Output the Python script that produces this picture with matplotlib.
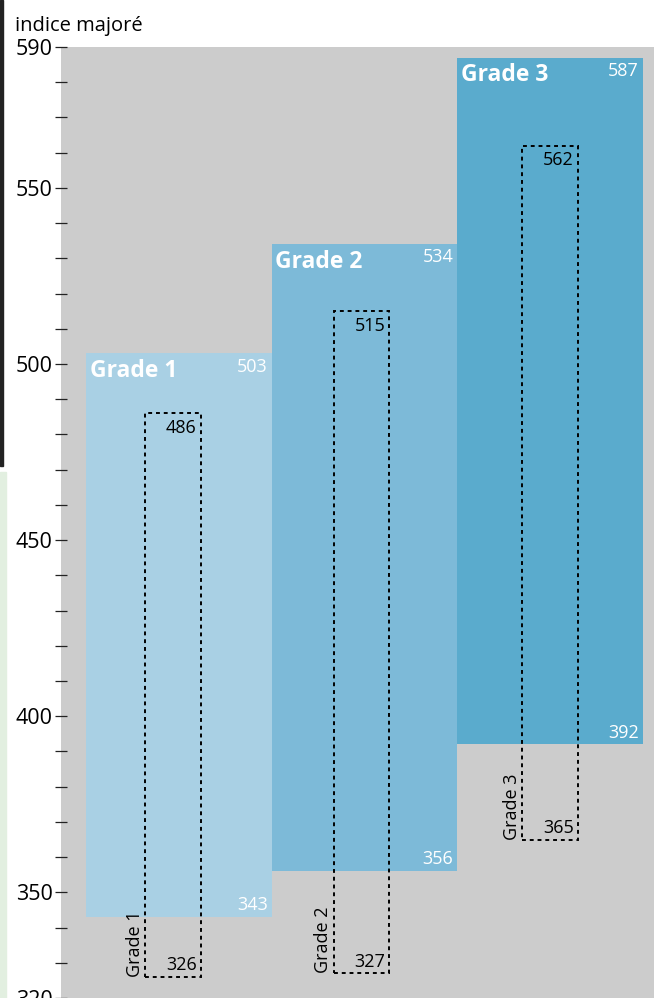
import numpy as np
import matplotlib.pyplot as plt
from matplotlib.patches import Rectangle

plt.rcParams['font.family'] = ['Open Sans', 'DejaVu Sans']

grades = ['Grade 1', 'Grade 2', 'Grade 3']
range_low = [343, 356, 392]
range_high = [503, 534, 587]
inner_low = [326, 327, 365]
inner_high = [486, 515, 562]
bar_colors = ['#a9d0e4', '#7dbad8', '#5aabcd']
tick_values = np.arange(320, 591, 10)
labelled = [320, 350, 400, 450, 500, 550, 590]

W, H = 654, 998
fig = plt.figure(figsize=(W / 100, H / 100), dpi=100)
ax = fig.add_axes([61 / W, 0.0, 1 - 61 / W, 1 - 47 / H])
ax.set_facecolor('#cccccc')

x = np.arange(len(grades))
low = np.array(range_low)
high = np.array(range_high)
ax.bar(x, high - low, bottom=low, width=1.0, color=bar_colors, zorder=2)

# dashed boxes sit slightly left of the bar centres, a bit more for the first
ilow = np.array(inner_low)
ihigh = np.array(inner_high)
xi = -0.034 + 1.017 * x
ax.bar(xi, ihigh - ilow, bottom=ilow, width=0.30, fill=False,
       edgecolor='black', linewidth=1.4, linestyle=(0, (2.0, 2.0)), zorder=3)

for i, g in enumerate(grades):
    left, right = x[i] - 0.5, x[i] + 0.5
    ax.annotate(g, (left, high[i]), xytext=(2.5, -4), textcoords='offset points',
                ha='left', va='top', color='white', fontsize=16.5, fontweight='bold', zorder=4)
    ax.annotate(str(high[i]), (right, high[i]), xytext=(-3, -3), textcoords='offset points',
                ha='right', va='top', color='white', fontsize=13, zorder=4)
    ax.annotate(str(low[i]), (right, low[i]), xytext=(-3, 2), textcoords='offset points',
                ha='right', va='bottom', color='white', fontsize=13, zorder=4)

    il, ir = xi[i] - 0.15, xi[i] + 0.15
    ax.annotate(str(ihigh[i]), (ir, ihigh[i]), xytext=(-3, -4), textcoords='offset points',
                ha='right', va='top', color='black', fontsize=13, zorder=4)
    ax.annotate(str(ilow[i]), (ir, ilow[i]), xytext=(-3, 2), textcoords='offset points',
                ha='right', va='bottom', color='black', fontsize=13, zorder=4)
    ax.annotate(g, (il, ilow[i]), xytext=(-1, 0), textcoords='offset points',
                rotation=90, ha='right', va='bottom', color='black', fontsize=13, zorder=4)

ax.set_xlim(-0.637, 2.56)
ax.set_ylim(320, 590)
ax.set_xticks([])
ax.set_yticks(tick_values)
ax.set_yticklabels([str(v) if v in labelled else '' for v in tick_values])
ax.tick_params(axis='y', direction='inout', length=8, width=0.9, color='#222222',
               labelsize=15.5, pad=2)
for s in ax.spines.values():
    s.set_visible(False)

fig.text(15 / W, 1 - 31 / H, 'indice majoré', fontsize=14.5, va='baseline', ha='left')

# bits of the surrounding page at the left edge
fig.patches.append(Rectangle((0, 1 - 466 / H), 3 / W, 466 / H, transform=fig.transFigure,
                             color='#222222', zorder=5))
fig.patches.append(Rectangle((0, 0), 6 / W, 1 - 472 / H, transform=fig.transFigure,
                             color='#e2efe0', zorder=5))

fig.savefig('out.png', dpi=100)
